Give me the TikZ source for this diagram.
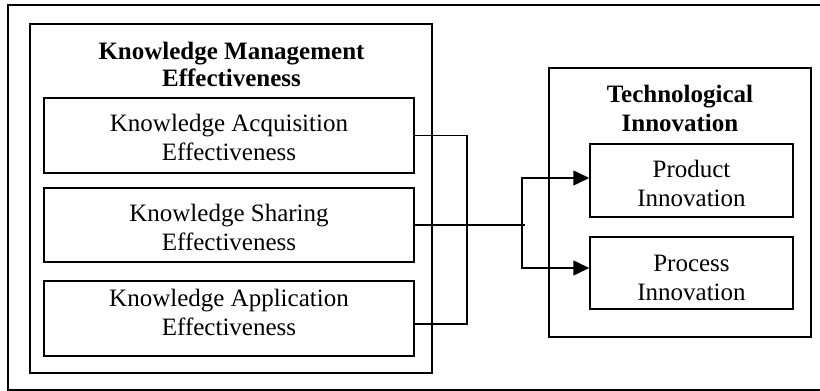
\documentclass[tikz,border=0pt]{standalone}
\usepackage{fontspec}
\setmainfont{Liberation Serif}
\usetikzlibrary{arrows.meta}
\begin{document}
\begin{tikzpicture}[x=1pt,y=-1pt,
  frame/.style={draw, line width=1.5pt, rectangle, inner sep=0pt},
  box/.style={frame, align=center, font=\fontsize{25}{28.5}\selectfont, text depth=5pt},
  ttl/.style={align=center, anchor=base, inner sep=0pt},
  conn/.style={line width=1.5pt},
  arr/.style={conn, -{Triangle[length=16pt,width=15pt]}}]
\useasboundingbox (0,0) rectangle (820,391);
% outer frame (right side cut off)
\draw[line width=1.3pt] (820,5) -- (8,5) -- (8,390) -- (820,390);
% Knowledge management frame
\node[frame, minimum width=402pt, minimum height=349pt] (km) at (231,198.5) {};
\node[ttl, font=\fontsize{25}{27.5}\selectfont\bfseries] (kmt) at (231.5,86.7) {Knowledge Management\\Effectiveness};
\node[box, minimum width=370pt, minimum height=75pt, text height=54pt] (b1) at (229,135.5) {Knowledge Acquisition\\Effectiveness};
\node[box, minimum width=370pt, minimum height=74pt, text height=55pt] (b2) at (229,225) {Knowledge Sharing\\Effectiveness};
\node[box, minimum width=370pt, minimum height=75pt, text height=38pt] (b3) at (229,318.5) {Knowledge Application\\Effectiveness};
% Technological innovation frame
\node[frame, minimum width=262pt, minimum height=269pt] (tech) at (680,202.5) {};
\node[ttl, font=\fontsize{25}{29}\selectfont\bfseries] (tt) at (680,131.7) {Technological\\Innovation};
\node[box, font=\fontsize{25}{29}\selectfont, minimum width=203pt, minimum height=73pt, text height=57.4pt] (prod) at (691.5,180.5) {Product\\Innovation};
\node[box, font=\fontsize{25}{29}\selectfont, minimum width=203pt, minimum height=72pt, text height=59pt] (proc) at (691.5,273) {Process\\Innovation};
% connectors
\coordinate (jv) at (467,230);
\coordinate (b3r) at ([yshift=-5.5pt]b3.east);
\draw[conn] (b1.east) -| (jv) |- (b3r);
\coordinate (jm) at (b2.east -| 525,0);
\coordinate (jx) at (522,225);
\draw[conn] (b2.east) -- (jm);
\draw[arr] (jx) |- ([yshift=2.5pt]prod.west);
\draw[arr] (jx) |- ([yshift=5pt]proc.west);
\end{tikzpicture}
\end{document}
